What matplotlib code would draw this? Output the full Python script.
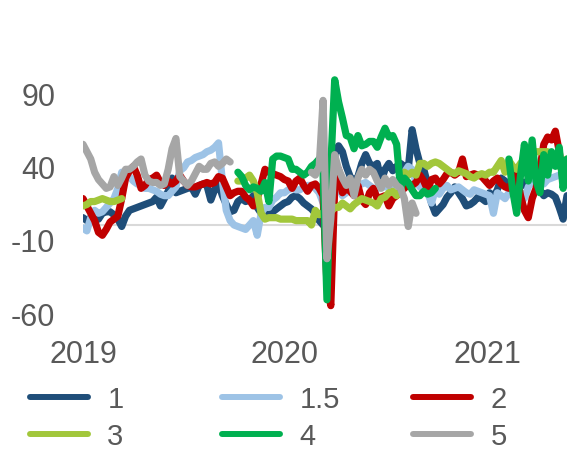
import numpy as np
import pandas as pd
import matplotlib
matplotlib.use("Agg")
import matplotlib.pyplot as plt
import matplotlib.dates as mdates
from matplotlib.lines import Line2D

plt.rcParams["axes.unicode_minus"] = False
nan = np.nan

# weekly observations, Jan 2019 to late May 2021
dates = pd.date_range("2019-01-01", periods=126, freq="7D")

s1 = [5, 3, 5, 6, 4, 8, 9, 9, 7, 4,
      -1, 6, 10, 11, 12, 13, 14, 15, 16, 19,
      13, 18, 23, 32, 22, 23, 24, 25, 26, 21,
      27, 28, 27, 17, 24, 28, 20, 14, 9, 10,
      16, 18, 16, 17, 20, 12, 8, 7, 8, 9,
      11, 13, 15, 16, 19, 20, 18, 15, 13, 11,
      8, 3, 0, 10, 30, 48, 54, 50, 40, 33,
      30, 33, 42, 48, 42, 40, 42, 30, 38, 42,
      37, 40, 42, 40, 38, 65, 52, 42, 38, 28,
      15, 8, 11, 14, 19, 22, 26, 22, 18, 13,
      14, 16, 19, 18, 16, 22, 19, 24, 32, 30,
      27, 32, 36, 30, 27, 31, 30, 28, 24, 20,
      22, 21, 19, 12, 4, 20]

s15 = [-2, -4, 5, 10, 8, 9, 12, 15, 18, 25,
       36, 36, 33, 30, 28, 27, 25, 25, 24, 23,
       21, 20, 20, 23, 26, 37, 39, 43, 44, 46,
       47, 48, 50, 51, 53, 56, 30, 10, 3, 0,
       -1, -2, -3, 0, 3, -7, 8, 12, 12, 17,
       19, 22, 22, 24, 25, 24, 24, 26, 27, 27,
       25, 22, 15, 10, 18, 26, 27, 20, 22, 25,
       26, 27, 28, 29, 27, 25, 25, 26, 26, 26,
       27, 29, 33, 36, 40, 38, 29, 26, 24, 22,
       15, 24, 21, 25, 27, 24, 25, 26, 24, 22,
       21, 24, 23, 22, 21, 20, 8, 22, 20, 18,
       22, 24, 25, 22, 18, 26, 30, 33, 29, 28,
       31, 32, 33, 34, 34, 27]

s2 = [18, 13, 8, 3, -5, -7, -3, 2, 4, 6,
      18, 32, 37, 40, 34, 25, 27, 31, 32, 34,
      29, 27, 30, 28, 30, 34, 30, 27, 26, 26,
      27, 28, 29, 28, 29, 33, 32, 26, 20, 22,
      23, 23, 19, 17, 13, 18, 28, 38, 36, 35,
      34, 33, 31, 30, 25, 30, 32, 27, 23, 27,
      28, 25, 20, -40, -55, 25, 38, 22, 25, 23,
      20, 27, 17, 14, 22, 25, 18, 19, 20, 13,
      18, 20, 23, 25, 28, 27, 29, 34, 30, 24,
      31, 32, 28, 31, 35, 36, 34, 36, 45, 33,
      34, 35, 34, 33, 30, 27, 30, 32, 28, 26,
      25, 30, 34, 20, 10, 5, 18, 25, 38, 55,
      60, 58, 64, 50, 30, 34]

s3 = ([13, 14, 16, 16, 17, 18, 17, 16, 16, 17, 18]
      + [nan] * 29
      + [30, 30, 32, 34, 30, 22, 8, 4,
         5, 5, 5, 4, 4, 4, 4, 3, 3, 3, 3,
         0, 10, 7,
         8, 7, 9, 12, 12, 15, 13, 11, 14, 16, 18, 17, 16, 15, 13, 18, 19, 22, 23, 20, 24,
         36, 34, 36, 34, 42, 42, 40, 42, 43, 42, 40, 38, 36, 35, 37,
         36, 35, 33, 32, 34, 35, 34, 36, 36, 40, 44, 36, 44, 40, 38,
         42, 45, 47, 48, 50, 50, 50, 50, 46, 42, 40, 43, 45])

s4 = ([nan] * 40
      + [36, 33, 27, 24, 26, 25, 23, 29, 16, 45,
         47, 47, 46, 45, 38, 38, 36, 34, 36, 40,
         42, 45, 35, -51, 40, 99, 84, 73, 61, 60,
         52, 61, 54, 55, 57, 57, 53, 60, 66, 60,
         61, 55, 25, 32, 29, 24, 20, 20, 23, 21,
         22, 25]
      + [nan] * 18
      + [45, 23, 8, 34, 55, 30, 58, 30, 22, 48, 34, 50, 40, 53, 25, 45])

s5 = ([55, 50, 45, 36, 31, 28, 25, 26, 33, 27,
       32, 38, 38, 40, 43, 45, 34, 30, 29, 29,
       27, 28, 38, 52, 59, 33, 30, 27, 30, 35,
       40, 38, 38, 42, 43, 40, 42, 45, 43]
      + [nan] * 20
      + [36, 34, 40, 85, -23, 4, 48, 38, 32, 27,
         32, 20, 32, 38, 34, 38, 36, 30, 25, 32,
         27, 31, 27, 25, 18, -1, 15, 8]
      + [nan] * 39)

series = [s1, s15, s2, s3, s4, s5]
labels = ["1", "1.5", "2", "3", "4", "5"]
colors = ["#1F4E79", "#9DC3E6", "#C00000", "#A2C73B", "#00B050", "#A6A6A6"]
text_color = "#595959"
font = "Liberation Sans"

fig = plt.figure(figsize=(5.7, 4.52), dpi=100)
ax = fig.add_axes([83 / 570, 138 / 452, 484 / 570, 249.3 / 452])

ax.axhline(0, color="#D9D9D9", lw=1.5, zorder=1)
for vals, col in zip(series, colors):
    ax.plot(dates, np.array(vals, dtype=float), color=col, lw=5.2,
            solid_joinstyle="round", solid_capstyle="round", zorder=2)

ax.set_xlim(dates[0], dates[-1])
ax.set_ylim(-60, 110)
ax.set_yticks([-60, -10, 40, 90])
ax.xaxis.set_major_locator(mdates.YearLocator())
ax.xaxis.set_major_formatter(mdates.DateFormatter("%Y"))
ax.tick_params(axis="both", length=0, labelsize=22, labelcolor=text_color)
ax.tick_params(axis="y", pad=20)
ax.tick_params(axis="x", pad=19)
for lab in ax.get_xticklabels() + ax.get_yticklabels():
    lab.set_fontfamily(font)
for sp in ax.spines.values():
    sp.set_visible(False)

# legend laid out as three evenly spaced columns
handles = [Line2D([], [], color=c, lw=4.3, solid_capstyle="round") for c in colors]
columns = [(0, 3), (1, 4), (2, 5)]
col_x = [30, 222, 413]
for (a, b), x in zip(columns, col_x):
    leg = fig.legend([handles[a], handles[b]], [labels[a], labels[b]],
                     loc="center left", bbox_to_anchor=(x / 570, 33.5 / 452),
                     frameon=False, borderpad=0, borderaxespad=0,
                     handlelength=2.0, handletextpad=0.65, labelspacing=0.32,
                     prop={"family": font, "size": 21})
    for t in leg.get_texts():
        t.set_color(text_color)

fig.savefig("out.png", dpi=100)
